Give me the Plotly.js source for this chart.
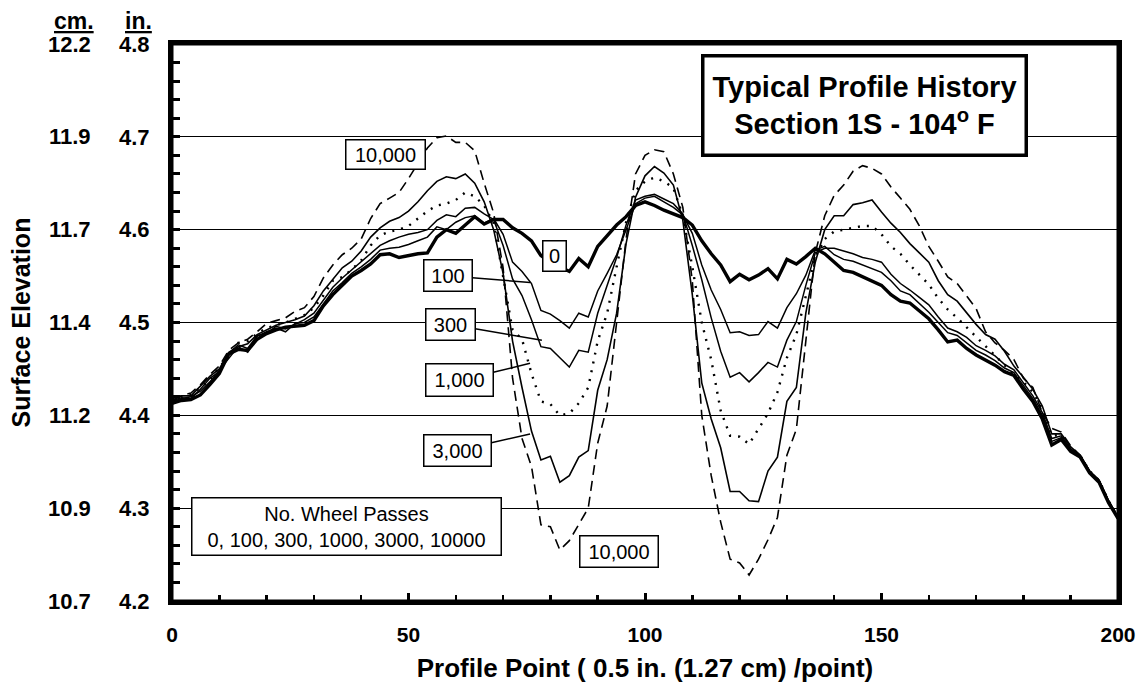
<!DOCTYPE html>
<html>
<head>
<meta charset="utf-8">
<script src="https://cdn.plot.ly/plotly-3.0.1.min.js"></script>
<style>html,body{margin:0;padding:0;background:#fff;}#chart{width:1144px;height:684px;}</style>
</head>
<body>
<div id="chart"></div>
<script>
// Profile points (0.5 in. per point)
const profilePoints = [0,2,4,6,8,10,12,14,16,18,20,22,24,26,28,30,32,34,36,38,40,42,44,46,48,50,52,54,56,58,60,62,64,66,68,70,72,74,76,78,80,82,84,86,88,90,92,94,96,98,100,102,104,106,108,110,112,114,116,118,120,122,124,126,128,130,132,134,136,138,140,142,144,146,148,150,152,154,156,158,160,162,164,166,168,170,172,174,176,178,180,182,184,186,188,190,192,194,196,198,200];

// Surface elevation (in.) after N wheel passes
const passes0 = [4.413,4.416,4.417,4.422,4.433,4.445,4.466,4.471,4.470,4.482,4.488,4.492,4.495,4.496,4.497,4.502,4.518,4.530,4.540,4.550,4.556,4.563,4.573,4.574,4.570,4.572,4.574,4.575,4.592,4.600,4.596,4.605,4.614,4.606,4.611,4.611,4.602,4.596,4.588,4.572,4.565,4.560,4.555,4.569,4.560,4.582,4.593,4.605,4.614,4.626,4.630,4.626,4.621,4.617,4.613,4.605,4.588,4.574,4.562,4.544,4.552,4.546,4.551,4.558,4.547,4.568,4.563,4.571,4.580,4.574,4.565,4.556,4.554,4.549,4.545,4.540,4.530,4.523,4.521,4.513,4.504,4.492,4.479,4.481,4.472,4.465,4.460,4.454,4.447,4.443,4.428,4.415,4.396,4.368,4.374,4.361,4.355,4.338,4.328,4.306,4.289];
const passes100 = [4.415,4.418,4.420,4.426,4.436,4.449,4.462,4.474,4.468,4.485,4.490,4.494,4.490,4.499,4.500,4.506,4.520,4.534,4.543,4.553,4.560,4.568,4.578,4.580,4.581,4.584,4.588,4.592,4.603,4.600,4.608,4.613,4.615,4.607,4.612,4.595,4.565,4.555,4.542,4.513,4.509,4.502,4.494,4.510,4.506,4.534,4.553,4.573,4.600,4.628,4.634,4.636,4.630,4.624,4.616,4.596,4.562,4.535,4.514,4.489,4.490,4.486,4.487,4.501,4.494,4.516,4.531,4.551,4.578,4.582,4.573,4.568,4.566,4.562,4.558,4.554,4.545,4.534,4.530,4.521,4.511,4.500,4.489,4.486,4.478,4.470,4.465,4.459,4.451,4.446,4.432,4.418,4.400,4.372,4.376,4.363,4.356,4.339,4.329,4.307,4.290];
const passes300 = [4.416,4.419,4.418,4.428,4.440,4.447,4.467,4.476,4.472,4.486,4.488,4.496,4.493,4.498,4.503,4.510,4.524,4.538,4.548,4.557,4.566,4.575,4.583,4.588,4.592,4.595,4.597,4.600,4.610,4.616,4.614,4.623,4.624,4.617,4.611,4.583,4.547,4.529,4.503,4.474,4.472,4.462,4.452,4.470,4.468,4.510,4.540,4.570,4.605,4.632,4.636,4.638,4.633,4.628,4.617,4.583,4.546,4.505,4.469,4.441,4.446,4.436,4.446,4.457,4.452,4.481,4.501,4.540,4.575,4.580,4.580,4.577,4.574,4.570,4.568,4.565,4.552,4.542,4.535,4.527,4.519,4.506,4.494,4.490,4.484,4.475,4.470,4.464,4.455,4.449,4.435,4.421,4.403,4.375,4.378,4.364,4.357,4.340,4.330,4.308,4.290];
const passes1000 = [4.417,4.420,4.422,4.430,4.438,4.452,4.463,4.478,4.480,4.488,4.494,4.497,4.500,4.504,4.508,4.516,4.529,4.545,4.549,4.557,4.567,4.583,4.594,4.598,4.600,4.604,4.612,4.620,4.626,4.628,4.632,4.640,4.636,4.626,4.607,4.550,4.492,4.482,4.445,4.415,4.412,4.400,4.402,4.413,4.430,4.480,4.510,4.560,4.608,4.642,4.652,4.656,4.652,4.645,4.615,4.560,4.500,4.460,4.405,4.378,4.377,4.369,4.385,4.402,4.425,4.462,4.487,4.530,4.570,4.590,4.598,4.600,4.602,4.604,4.604,4.595,4.582,4.574,4.562,4.552,4.541,4.526,4.514,4.505,4.495,4.484,4.474,4.464,4.454,4.444,4.436,4.425,4.407,4.378,4.379,4.365,4.357,4.340,4.330,4.308,4.290];
const passes3000 = [4.416,4.421,4.421,4.432,4.442,4.450,4.468,4.474,4.477,4.487,4.492,4.497,4.500,4.503,4.507,4.518,4.534,4.546,4.559,4.566,4.577,4.592,4.602,4.609,4.613,4.620,4.630,4.642,4.652,4.657,4.655,4.660,4.650,4.630,4.600,4.553,4.480,4.430,4.383,4.352,4.356,4.328,4.335,4.355,4.362,4.427,4.460,4.510,4.585,4.635,4.658,4.668,4.661,4.648,4.610,4.530,4.435,4.396,4.365,4.318,4.318,4.308,4.307,4.340,4.355,4.415,4.430,4.510,4.565,4.600,4.615,4.615,4.627,4.629,4.632,4.619,4.607,4.597,4.585,4.575,4.565,4.545,4.530,4.523,4.510,4.498,4.487,4.482,4.469,4.453,4.441,4.428,4.410,4.380,4.380,4.366,4.357,4.340,4.330,4.308,4.290];
const passes10000 = [4.418,4.421,4.424,4.433,4.444,4.453,4.470,4.478,4.482,4.490,4.499,4.502,4.505,4.512,4.516,4.528,4.548,4.562,4.573,4.580,4.590,4.612,4.628,4.634,4.640,4.655,4.672,4.688,4.699,4.701,4.694,4.694,4.685,4.650,4.618,4.559,4.440,4.375,4.345,4.282,4.280,4.255,4.265,4.283,4.300,4.370,4.410,4.500,4.590,4.660,4.680,4.686,4.684,4.660,4.624,4.545,4.400,4.335,4.285,4.245,4.241,4.228,4.245,4.266,4.290,4.357,4.385,4.480,4.575,4.615,4.637,4.648,4.663,4.669,4.666,4.660,4.646,4.634,4.622,4.604,4.582,4.566,4.549,4.542,4.528,4.515,4.490,4.478,4.470,4.460,4.440,4.430,4.403,4.386,4.382,4.367,4.357,4.340,4.330,4.308,4.290];

// Axis ticks (inches) and matching centimetre labels
const inchTicks = [4.2,4.3,4.4,4.5,4.6,4.7,4.8];
const cmLabels = ['10.7','10.9','11.2','11.4','11.7','11.9','12.2'];
const xTicks = [0,50,100,150,200];

const FONT = 'Arial, "Liberation Sans", Helvetica, sans-serif';

const seriesDefs = [
  {name:'0', y:passes0, line:{color:'#000', width:3.4}},
  {name:'100', y:passes100, line:{color:'#000', width:1.5}},
  {name:'300', y:passes300, line:{color:'#000', width:1.5}},
  {name:'1000', y:passes1000, line:{color:'#000', width:2.4, dash:'2px,7px'}},
  {name:'3000', y:passes3000, line:{color:'#000', width:1.6}},
  {name:'10000', y:passes10000, line:{color:'#000', width:1.6, dash:'10px,6px'}}
];
const traces = seriesDefs.map(s => ({
  type:'scatter', mode:'lines', name:s.name, x:profilePoints, y:s.y,
  line:s.line, hoverinfo:'skip', showlegend:false
}));

const annotations = [];
// centimetre tick labels (second column on the left)
inchTicks.forEach((v,i) => {
  annotations.push({xref:'paper', yref:'y', x:-0.083, y:v, xanchor:'right', yanchor:'middle',
    text:'<b>'+cmLabels[i]+'</b>', showarrow:false, font:{family:FONT, size:22, color:'#000'}});
});
annotations.push({xref:'paper', yref:'paper', x:-0.080, y:1.042, xanchor:'right', yanchor:'middle',
  text:'<b><u>cm.</u></b>', showarrow:false, font:{family:FONT, size:23, color:'#000'}});
annotations.push({xref:'paper', yref:'paper', x:-0.019, y:1.042, xanchor:'right', yanchor:'middle',
  text:'<b><u>in.</u></b>', showarrow:false, font:{family:FONT, size:23, color:'#000'}});

// title box
annotations.push({xref:'x', yref:'y', x:146.5, y:4.734, showarrow:false,
  text:'<b>Typical Profile History</b><br><b>Section 1S - 104<sup>o</sup> F</b>',
  font:{family:FONT, size:29, color:'#000'}, bgcolor:'#fff', bordercolor:'#000', borderwidth:3.5,
  width:318, height:94, borderpad:1});

// curve labels
const boxLab = (x, y, text, w, h, extra) => Object.assign({xref:'x', yref:'y', x:x, y:y, text:text,
  showarrow:false, font:{family:FONT, size:20, color:'#000'}, bgcolor:'#fff', bordercolor:'#000',
  borderwidth:1.5, borderpad:1, width:w, height:h}, extra||{});
annotations.push(boxLab(45.2, 4.681, '10,000', 76, 26));
annotations.push(boxLab(80.9, 4.572, '0', 20, 27));
annotations.push(boxLab(75.7, 4.543, '100', 45, 28, {showarrow:true, arrowhead:0, arrowwidth:1.5, arrowcolor:'#000', ax:-82, ay:-7}));
annotations.push(boxLab(78.2, 4.481, '300', 46, 28, {showarrow:true, arrowhead:0, arrowwidth:1.5, arrowcolor:'#000', ax:-91.5, ay:-15.5}));
annotations.push(boxLab(75.7, 4.456, '1,000', 64, 29, {showarrow:true, arrowhead:0, arrowwidth:1.5, arrowcolor:'#000', ax:-70.5, ay:17}));
annotations.push(boxLab(75.7, 4.380, '3,000', 64, 28, {showarrow:true, arrowhead:0, arrowwidth:1.5, arrowcolor:'#000', ax:-72.5, ay:16.5}));
annotations.push(boxLab(94.5, 4.253, '10,000', 75, 28));
annotations.push(boxLab(36.9, 4.280, 'No. Wheel Passes<br>0, 100, 300, 1000, 3000, 10000', 306, 54));

const layout = {
  width:1144, height:684,
  margin:{l:172, r:26, t:44, b:83},
  paper_bgcolor:'#fff', plot_bgcolor:'#fff',
  font:{family:FONT, color:'#000'},
  showlegend:false,
  xaxis:{
    range:[0,200], tickvals:xTicks, ticks:'inside', ticklen:8, tickwidth:3, tickcolor:'#000',
    minor:{dtick:10, tick0:0, ticks:'inside', ticklen:6, tickwidth:2.5, tickcolor:'#000'},
    showline:true, linewidth:4, linecolor:'#000', mirror:true, showgrid:false, zeroline:false,
    tickfont:{family:FONT, size:21, color:'#000', weight:'bold'}, ticklabelstandoff:12,
    title:{text:'<b>Profile Point ( 0.5 in. (1.27 cm) /point)</b>', font:{family:FONT, size:26, color:'#000'}, standoff:15}
  },
  yaxis:{
    range:[4.2,4.8], tickvals:inchTicks, tickformat:'.1f', ticks:'inside', ticklen:8, tickwidth:3, tickcolor:'#000',
    minor:{dtick:0.02, tick0:4.2, ticks:'inside', ticklen:8, tickwidth:3, tickcolor:'#000', showgrid:false},
    showline:true, linewidth:4, linecolor:'#000', mirror:true,
    showgrid:true, gridcolor:'#000', gridwidth:1.2, zeroline:false,
    tickfont:{family:FONT, size:22, color:'#000', weight:'bold'}, ticklabelstandoff:14,
    title:{text:'<b>Surface Elevation</b>', font:{family:FONT, size:25, color:'#000'}, standoff:82}
  },
  shapes:[
    {type:'rect', xref:'paper', yref:'paper', x0:0, x1:1, y0:0, y1:1, line:{color:'#000', width:3}, layer:'above'}
  ],
  annotations:annotations
};

Plotly.newPlot('chart', traces, layout, {staticPlot:true, displayModeBar:false});
</script>
</body>
</html>
